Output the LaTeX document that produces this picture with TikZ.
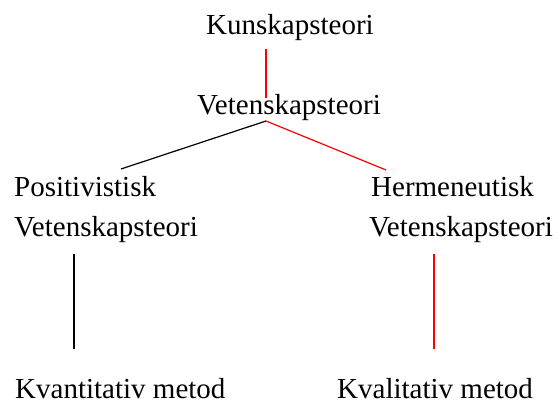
\documentclass[tikz,border=0pt]{standalone}
\usepackage{fontspec}
\setmainfont{Liberation Serif}
\begin{document}
\begin{tikzpicture}[x=1pt,y=-1pt,
  lbl/.style={inner sep=0pt,anchor=base west,font=\fontsize{29}{34}\selectfont},
  redline/.style={draw=red,line width=1.2pt},
  blackline/.style={draw=black,line width=1.2pt}]
\useasboundingbox (0,0) rectangle (558,401);
\node[lbl] (kun) at (206,35) {Kunskapsteori};
\node[lbl] (vet) at (197,115) {Vetenskapsteori};
\node[lbl] (pos1) at (14,197) {Positivistisk};
\node[lbl] (pos2) at (14,237) {Vetenskapsteori};
\node[lbl] (her1) at (371,197) {Hermeneutisk};
\node[lbl] (her2) at (369,237) {Vetenskapsteori};
\node[lbl] (kvan) at (15,399) {Kvantitativ metod};
\node[lbl] (kval) at (337,399) {Kvalitativ metod};
\coordinate (kunb) at (266,49);
\coordinate (vett) at (266,98);
\coordinate (vetb) at (266,121);
\coordinate (post) at (121,169);
\coordinate (hert) at (386,170);
\coordinate (posb) at (74,254);
\coordinate (kvant) at (74,349);
\coordinate (herb) at (434,254);
\coordinate (kvalt) at (434,349);
\draw[redline] (kunb) -- (vett);
\draw[blackline] (vetb) -- (post);
\draw[redline] (vetb) -- (hert);
\draw[blackline] (posb) -- (kvant);
\draw[redline] (herb) -- (kvalt);
\end{tikzpicture}
\end{document}
